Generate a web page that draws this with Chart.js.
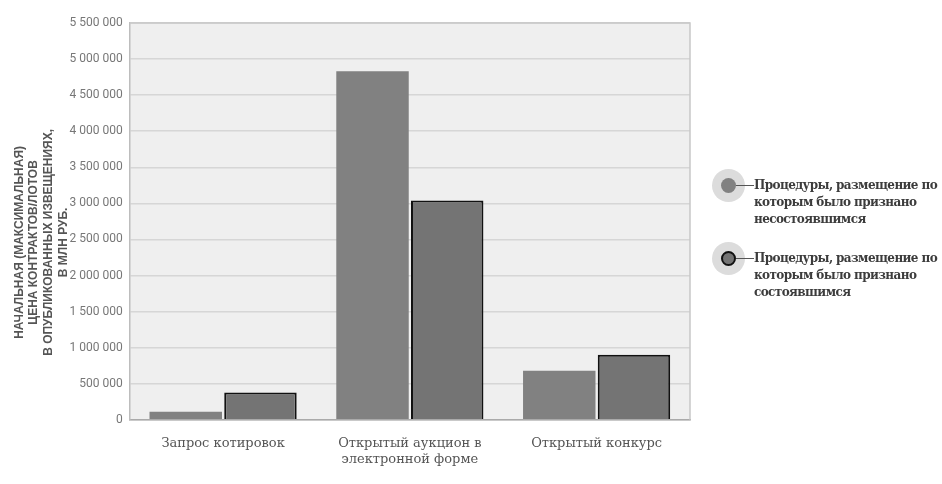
<!DOCTYPE html>
<html>
<head>
<meta charset="utf-8">
<script src="https://cdn.jsdelivr.net/npm/chart.js@4"></script>
<style>
  body { margin: 0; background: #fff; }
  #wrap { position: relative; width: 942px; height: 484px; }
  #legenda { position: absolute; left: 712px; top: 177px; width: 232px; font-family: "DejaVu Serif", serif; font-weight: bold; font-size: 12px; letter-spacing: -0.6px; color: #3c3c3c; }
  .item { position: relative; padding-left: 42px; line-height: 17px; margin-bottom: 22px; }
  .halo { position: absolute; left: 0; top: -8px; width: 33px; height: 33px; border-radius: 50%; background: #dcdcdc; }
  .ponto { position: absolute; left: 9px; top: 1px; width: 15px; height: 15px; border-radius: 50%; box-sizing: border-box; }
  .traco { position: absolute; left: 24px; top: 8px; width: 18px; height: 1px; background: #555; }
</style>
</head>
<body>
<div id="wrap">
  <canvas id="grafico" width="942" height="484"></canvas>
  <div id="legenda"></div>
</div>
<script>
// dados do grafico
var categorias = ['Запрос котировок', ['Открытый аукцион в', 'электронной форме'], 'Открытый конкурс'];
var nomesSeries = ['Процедуры, размещение по которым было признано несостоявшимся',
                   'Процедуры, размещение по которым было признано состоявшимся'];
var naoRealizadas = [110000, 4830000, 680000];
var realizadas = [380000, 3040000, 900000];
var tituloEixoY = ['НАЧАЛЬНАЯ (МАКСИМАЛЬНАЯ)', 'ЦЕНА КОНТРАКТОВ/ЛОТОВ', 'В ОПУБЛИКОВАННЫХ ИЗВЕЩЕНИЯХ,', 'В МЛН РУБ.'];

var coresSeries = ['#818181', '#747474'];
var bordasSeries = ['#818181', '#111111'];

// fundo cinza da area do grafico
const fundoArea = {
    id: 'fundoArea',
    beforeDraw(chart) {
        const a = chart.chartArea;
        const ctx = chart.ctx;
        ctx.save();
        ctx.fillStyle = '#efefef';
        ctx.fillRect(a.left, a.top, a.right - a.left, a.bottom - a.top);
        ctx.restore();
    },
    afterDatasetsDraw(chart) {
        const a = chart.chartArea;
        const ctx = chart.ctx;
        ctx.save();
        ctx.strokeStyle = '#c8c8c8';
        ctx.lineWidth = 1.5;
        ctx.beginPath();
        ctx.moveTo(a.left, a.top);
        ctx.lineTo(a.right, a.top);
        ctx.lineTo(a.right, a.bottom);
        ctx.stroke();
        ctx.restore();
    }
};

function formatarNumero(v) {
    return String(v).replace(/\B(?=(\d{3})+(?!\d))/g, ' ');
}

let myChart = new Chart(document.getElementById('grafico'), {
    type: 'bar',
    data: {
        labels: categorias,
        datasets: [{
            label: nomesSeries[0],
            data: naoRealizadas,
            backgroundColor: coresSeries[0],
            borderColor: bordasSeries[0],
            borderWidth: 0,
            barPercentage: 0.97,
            categoryPercentage: 0.8
        }, {
            label: nomesSeries[1],
            data: realizadas,
            backgroundColor: coresSeries[1],
            borderColor: bordasSeries[1],
            borderWidth: 2,
            barPercentage: 0.97,
            categoryPercentage: 0.8
        }]
    },
    options: {
        responsive: false,
        animation: false,
        layout: { padding: { left: 12, right: 252, top: 23, bottom: 9 } },
        plugins: {
            legend: { display: false },
            tooltip: { enabled: false }
        },
        scales: {
            x: {
                grid: { display: false },
                border: { color: '#aaaaaa', width: 1.5 },
                ticks: {
                    color: '#555',
                    padding: 8,
                    font: { family: 'DejaVu Serif', size: 13 }
                }
            },
            y: {
                min: 0,
                max: 5500000,
                grid: { color: '#d6d6d6', lineWidth: 1.5, drawTicks: false },
                border: { color: '#bdbdbd', width: 1.5 },
                ticks: {
                    stepSize: 500000,
                    color: '#777',
                    padding: 7,
                    font: { family: 'Roboto', size: 12 },
                    callback: function (v) { return formatarNumero(v); }
                },
                title: {
                    display: true,
                    // espacos no fim deslocam o titulo um pouco para baixo, como no original
                    text: tituloEixoY.map(function (l) { return l + '\u2003\u2003\u2003\u2002'; }),
                    color: '#555',
                    padding: { top: 0, bottom: -8 },
                    font: { family: 'Liberation Sans', size: 12, weight: 'bold', lineHeight: 1.22 }
                }
            }
        }
    },
    plugins: [fundoArea]
});

// legenda em html
var legenda = document.getElementById('legenda');
for (var i = 0; i < nomesSeries.length; i++) {
    var item = document.createElement('div');
    item.className = 'item';
    var borda = i == 1 ? '2px solid #111' : 'none';
    item.innerHTML = '<div class="halo"></div><div class="ponto" style="background:' + coresSeries[i] + ';border:' + borda + '"></div><div class="traco"></div>' + nomesSeries[i];
    legenda.appendChild(item);
}
</script>
</body>
</html>
